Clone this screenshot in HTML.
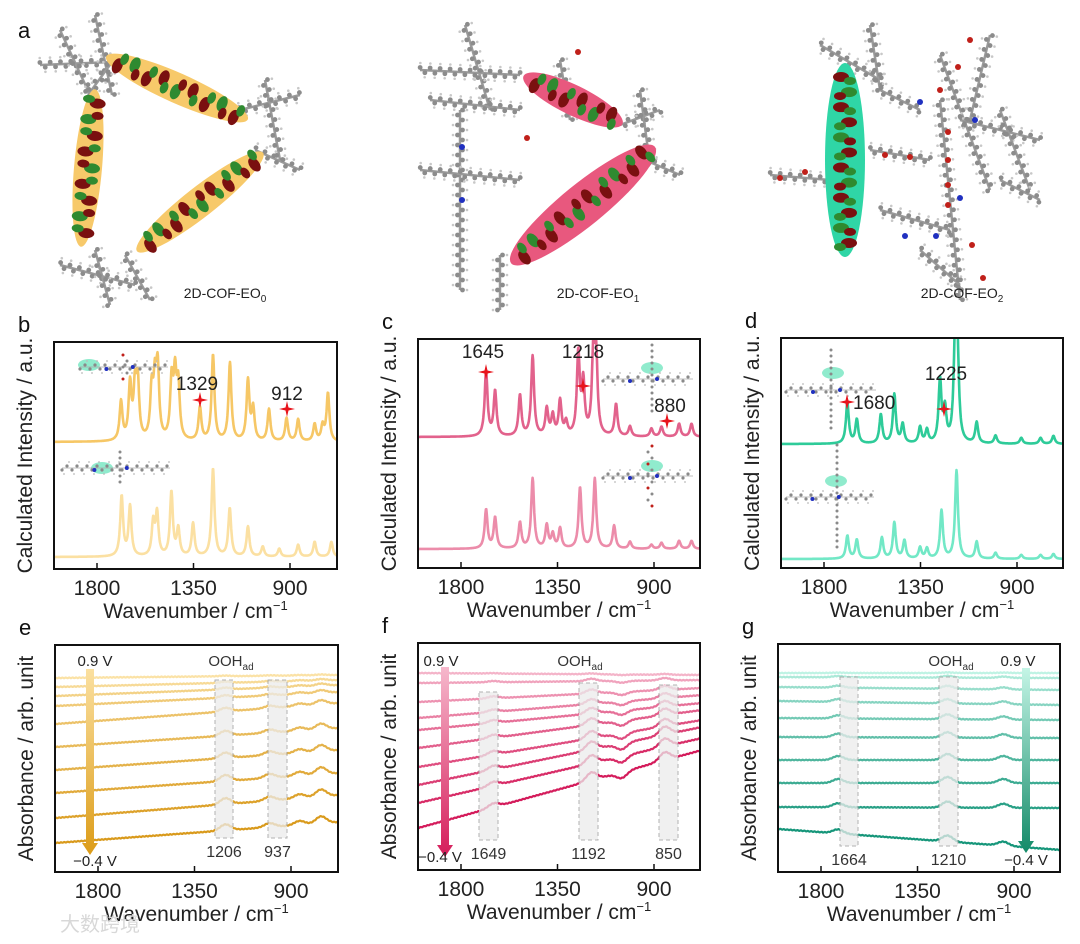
<!DOCTYPE html>
<html><head><meta charset="utf-8"><style>
html,body{margin:0;padding:0;background:#fff;}
svg{display:block;font-family:"Liberation Sans","Noto Sans CJK SC",sans-serif;}
</style></head><body>
<svg id="fig" width="1080" height="944" viewBox="0 0 1080 944" xmlns="http://www.w3.org/2000/svg">
<defs>
<linearGradient id="arrE" x1="0" y1="0" x2="0" y2="1"><stop offset="0" stop-color="#fbe0a0"/><stop offset="1" stop-color="#dc9c18"/></linearGradient>
<linearGradient id="arrF" x1="0" y1="0" x2="0" y2="1"><stop offset="0" stop-color="#f6b8cc"/><stop offset="1" stop-color="#d51d5a"/></linearGradient>
<linearGradient id="arrG" x1="0" y1="0" x2="0" y2="1"><stop offset="0" stop-color="#c4f5e6"/><stop offset="1" stop-color="#138a68"/></linearGradient>
</defs>
<g id="panelA"></g>
<g id="charts"></g>
</svg>
<script>
// ---------- calculated spectra data (wavenumber cm-1, peak height in px units) ----------
const bTopPos = [1688,1646,1623,1610,1545,1530,1517,1452,1436,1421,1320,1259,1180,1096,1072,998,916,862,785,748,723];
const bTopH   = [39,55,49,55,48,52,68,57,60,52,33,86,78,60,32,32,23,22,17,15,48];
const bBotPos = [1685,1646,1538,1520,1453,1421,1352,1259,1181,1096,1027,950,862,785,707];
const bBotH   = [60,50,33,42,64,27,33,88,48,30,10,8,12,15,15];
const cTopPos = [1683,1641,1525,1466,1400,1372,1338,1310,1253,1230,1183,1170,1077,1012,912,865,783,725];
const cTopH   = [65,45,41,80,27,20,35,13,82,52,77,75,32,10,8,10,13,13];
const cBotPos = [1683,1641,1525,1466,1400,1372,1338,1245,1176,1086,1012,912,865,783,725];
const cBotH   = [39,31,26,70,23,14,20,61,70,23,7,4,6,8,8];
const dTopPos = [1691,1647,1535,1472,1433,1352,1320,1259,1236,1189,1178,1088,1000,880,790,730];
const dTopH   = [41,24,29,49,19,16,13,62,32,91,89,21,8,6,6,8];
const dBotPos = [1691,1647,1530,1472,1425,1352,1320,1252,1182,1088,1000,880,790,730];
const dBotH   = [23,19,21,36,18,11,10,48,88,17,6,4,4,5];
const xTicks = [1800,1350,900];
const xTickLabels = ["1800","1350","900"];
// ---------- in-situ IR data (values in px-units above frame bottom) ----------
const eLeft  = [194,185,176,166,148,125,102,79,54,29];
const eRight = [197,192,187,180,169,144,122,99,77,50];
const eBumpPos = [1206,1000,860,760];
const eBumpAmp = [6,4,4,7];
const eBumpScale = [0.1,0.2,0.3,0.4,0.6,0.8,0.9,1,1,1];
const fLeft  = [197,187,168,152,140,122,103,85,67,42];
const fRight = [195,190,182,175,167,160,150,143,132,120];
const fBumpPos = [1649,1192,1050,850];
const fBumpAmp = [4,8,-6,8];
const fBumpScale = [0.1,0.3,0.5,0.6,0.7,0.8,0.9,1,1,1];
const gLeft  = [199,195,185,171,154,135,112,89,65,43];
const gRight = [199,194,182,167,152,134,112,89,64,22];
const gBumpPos = [1720,1210,950];
const gBumpAmp = [4,6,4];
const gBumpScale = [0.1,0.3,0.5,0.7,0.8,0.9,1,1,1,1];

const NS="http://www.w3.org/2000/svg";
function mk(parent,tag,attrs){const e=document.createElementNS(NS,tag);for(const k in attrs)e.setAttribute(k,attrs[k]);parent.appendChild(e);return e;}
function txt(parent,x,y,s,size,anchor,fill){const t=mk(parent,'text',{x:x,y:y,'font-size':size,'text-anchor':anchor||'middle',fill:fill||'#222'});t.textContent=s;return t;}

const charts=document.getElementById('charts');
function X(p,wn){return p.left+43+(1800-wn)*96.5/450;}
function makeFrame(p,letter,ytitle){
  const g=mk(charts,'g',{});
  
  
  const L=txt(g,p.left-36,p.top-10,letter,22,'start','#111');
  
  
  const axg=mk(g,'g',{});
  
  
  xTicks.forEach((w,i)=>{
    const x=X(p,w);
    mk(axg,'line',{x1:x,x2:x,y1:p.bottom,y2:p.bottom-6,stroke:'#111','stroke-width':1.5});
    const t=txt(axg,x,p.bottom+26,xTickLabels[i],21);
    
    
  });
  const xt=mk(g,'text',{x:(p.left+p.right)/2,y:p.bottom+49,'font-size':21,'text-anchor':'middle',fill:'#222'});
  xt.innerHTML='Wavenumber / cm<tspan dy="-8" font-size="13">\u22121</tspan>';
  
  
  const yt=txt(g,0,0,ytitle,21);
  yt.setAttribute('transform','translate('+(p.left-22)+','+((p.top+p.bottom)/2)+') rotate(-90)');
  
  
  const clipId='clip'+letter;
  const cp=mk(mk(g,'defs',{}),'clipPath',{id:clipId});
  mk(cp,'rect',{x:p.left,y:p.top,width:p.right-p.left,height:p.bottom-p.top});
  const plot=mk(g,'g',{'clip-path':'url(#'+clipId+')'});
  
  
  const fr=mk(g,'rect',{x:p.left,y:p.top,width:p.right-p.left,height:p.bottom-p.top,fill:'none',stroke:'#111','stroke-width':2});
  
  
  return {g:g,plot:plot};
}
function spectrum(p,plot,pos,h,base,color,name){
  let d='';
  for(let w=2000;w>=676;w-=2){
    let y=0;
    for(let i=0;i<pos.length;i++){const dx=(w-pos[i])/8;y+=h[i]/(1+dx*dx);}
    d+=(w===2000?'M':'L')+X(p,w).toFixed(1)+','+(base-y).toFixed(1);
  }
  const path=mk(plot,'path',{d:d,fill:'none',stroke:color,'stroke-width':2.6,'stroke-linejoin':'round'});
  
  
}
function star(g,x,y){
  const s=mk(g,'path',{d:`M${x-8},${y}L${x-1.5},${y-1.5}L${x},${y-8}L${x+1.5},${y-1.5}L${x+8},${y}L${x+1.5},${y+1.5}L${x},${y+8}L${x-1.5},${y+1.5}Z`,fill:'#e8141c'});
  
  
}
function miniMol(g,x,y,w,hl,vert){
  const m=mk(g,'g',{});
  
  
  mk(m,'ellipse',{cx:hl[0],cy:hl[1],rx:11,ry:6,fill:'#7de8c4',opacity:0.85});
  for(let i=0;i<w;i+=5){
    mk(m,'circle',{cx:x+i,cy:y+((i/5)%2?-2:2),r:1.6,fill:'#8a8a8a'});
    mk(m,'circle',{cx:x+i+2,cy:y+((i/5)%2?-6:6),r:0.9,fill:'#bbb'});
  }
  mk(m,'line',{x1:x,x2:x+w,y1:y,y2:y,stroke:'#aaa','stroke-width':0.7});
  if(vert){
    for(let j=-vert[1];j<=vert[1];j+=6){
      mk(m,'circle',{cx:vert[0]+((j/6)%2?2:-2),cy:y+j,r:1.5,fill:Math.abs(j)%18===12?'#c0201a':'#8a8a8a'});
    }
  }
  mk(m,'circle',{cx:x+w*0.6,cy:y,r:2,fill:'#2030c0'});
  mk(m,'circle',{cx:x+w*0.3,cy:y+2,r:2,fill:'#2030c0'});
}

// panels b,c,d
const pb={left:54,right:337,top:342,bottom:569};
const pc={left:418,right:700,top:339,bottom:568};
const pd={left:781,right:1063,top:338,bottom:568};
const YT1='Calculated  Intensity / a.u.';
let F=makeFrame(pb,'b',YT1);
spectrum(pb,F.plot,bTopPos,bTopH,442,'#f6c766','spectrum-eo0-top');
spectrum(pb,F.plot,bBotPos,bBotH,557,'#fbe0a2','spectrum-eo0-bottom');
miniMol(F.g,80,367,88,[89,365],[125,12]);
miniMol(F.g,62,468,108,[102,468],[118,16]);
star(F.g,200,400);txt(F.g,197,390,'1329',19);
star(F.g,287,409);txt(F.g,287,400,'912',19);

F=makeFrame(pc,'c',YT1);
spectrum(pc,F.plot,cTopPos,cTopH,437,'#e2628c','spectrum-eo1-top');
spectrum(pc,F.plot,cBotPos,cBotH,549,'#ec8caa','spectrum-eo1-bottom');
miniMol(F.g,603,379,90,[652,368],[650,34]);
miniMol(F.g,603,476,90,[652,466],[650,30]);
star(F.g,486,372);txt(F.g,483,358,'1645',19);
star(F.g,583,386);txt(F.g,583,358,'1218',19);
star(F.g,667,421);txt(F.g,670,412,'880',19);

F=makeFrame(pd,'d',YT1);
spectrum(pd,F.plot,dTopPos,dTopH,444,'#2ecb99','spectrum-eo2-top');
spectrum(pd,F.plot,dBotPos,dBotH,559,'#72e8c6','spectrum-eo2-bottom');
miniMol(F.g,786,390,90,[833,373],[829,40]);
miniMol(F.g,786,497,88,[836,481],[835,52]);
star(F.g,847,402);txt(F.g,853,409,'1680',19,'start');
star(F.g,944,409);txt(F.g,946,380,'1225',19);

// IR panels
const pe={left:55,right:338,top:645,bottom:872};
const pf={left:418,right:700,top:643,bottom:870};
const pg={left:778,right:1060,top:644,bottom:872};
const YT2='Absorbance / arb. unit';
function mixColor(c1,c2,t){const a=[1,3,5].map(i=>parseInt(c1.substr(i,2),16)),b=[1,3,5].map(i=>parseInt(c2.substr(i,2),16));return 'rgb('+a.map((v,i)=>Math.round(v+(b[i]-v)*t)).join(',')+')';}
function band(g,p,x1,x2,y1,y2,label){
  const r=mk(g,'rect',{x:x1,y:y1,width:x2-x1,height:y2-y1,fill:'#ececec',opacity:0.75,stroke:'#999','stroke-dasharray':'4,3','stroke-width':1});
  
  
  txt(g,(x1+x2)/2,y2+19,label,16,'middle','#333');
}
function irTraces(p,plot,left,right,bpos,bamp,bscale,c1,c2,name){
  const n=left.length;
  for(let k=0;k<n;k++){
    let d='';
    for(let w=2000;w>=676;w-=3){
      const t=(2000-w)/1324;
      let v=left[k]+(right[k]-left[k])*t;
      for(let j=0;j<bpos.length;j++){const dx=(w-bpos[j])/35;v+=bamp[j]*bscale[k]*Math.exp(-dx*dx);}
      v+=0.35*Math.sin(w*1.7+k*3.1);
      d+=(w===2000?'M':'L')+X(p,w).toFixed(1)+','+(p.bottom-v).toFixed(1);
    }
    const path=mk(plot,'path',{d:d,fill:'none',stroke:mixColor(c1,c2,k/(n-1)),'stroke-width':2.2,'stroke-linejoin':'round'});
    
    
  }
}
function arrow(g,x,y1,y2,grad){
  const a=mk(g,'path',{d:`M${x-4},${y1}L${x+4},${y1}L${x+4},${y2-12}L${x+8},${y2-12}L${x},${y2}L${x-8},${y2-12}L${x-4},${y2-12}Z`,fill:'url(#'+grad+')'});
  
  
}
function oohLabel(g,x,y){
  const t=mk(g,'text',{x:x,y:y,'font-size':15,'text-anchor':'middle',fill:'#333'});
  t.innerHTML='OOH<tspan dy="4" font-size="10">ad</tspan>';
  
  
}
F=makeFrame(pe,'e',YT2);
band(F.g,pe,215,233,680,838,'1206');band(F.g,pe,268,287,680,838,'937');
irTraces(pe,F.plot,eLeft,eRight,eBumpPos,eBumpAmp,eBumpScale,'#fbe2a6','#d99a1c','eo0');
arrow(F.g,90,669,855,'arrE');
txt(F.g,95,666,'0.9 V',15);txt(F.g,95,866,'\u22120.4 V',15);oohLabel(F.g,231,666);

F=makeFrame(pf,'f',YT2);
band(F.g,pf,479,498,692,840,'1649');band(F.g,pf,579,598,683,840,'1192');band(F.g,pf,659,678,685,840,'850');
irTraces(pf,F.plot,fLeft,fRight,fBumpPos,fBumpAmp,fBumpScale,'#f4b4c9','#d41b5b','eo1');
arrow(F.g,445,667,857,'arrF');
txt(F.g,441,666,'0.9 V',15);txt(F.g,440,862,'\u22120.4 V',15);oohLabel(F.g,580,666);

F=makeFrame(pg,'g',YT2);
band(F.g,pg,840,858,677,846,'1664');band(F.g,pg,939,958,677,846,'1210');
irTraces(pg,F.plot,gLeft,gRight,gBumpPos,gBumpAmp,gBumpScale,'#bff3e4','#16967a','eo2');
arrow(F.g,1026,668,853,'arrG');
txt(F.g,1018,666,'0.9 V',15);txt(F.g,1026,865,'\u22120.4 V',15);oohLabel(F.g,951,666);

// ---------- panel a: structures ----------
const A=document.getElementById('panelA');
const la=txt(A,18,38,'a',22,'start','#111');


function chain(x1,y1,x2,y2){
  const n=Math.max(2,Math.round(Math.hypot(x2-x1,y2-y1)/5));
  mk(A,'line',{x1:x1,y1:y1,x2:x2,y2:y2,stroke:'#9a9a9a','stroke-width':2.5});
  const nx=-(y2-y1),ny=(x2-x1),L=Math.hypot(nx,ny);
  for(let i=0;i<=n;i++){
    const x=x1+(x2-x1)*i/n,y=y1+(y2-y1)*i/n,s=(i%2?1:-1)*5;
    mk(A,'circle',{cx:x+nx/L*s*0.5,cy:y+ny/L*s*0.5,r:2.4,fill:'#8c8c8c'});
    mk(A,'circle',{cx:x+nx/L*s*1.4,cy:y+ny/L*s*1.4,r:1.3,fill:'#c8c8c8'});
  }
}
function orb(cx,cy,len,wid,ang,color,nlobe){
  const g=mk(A,'g',{transform:`translate(${cx},${cy}) rotate(${ang})`});
  
  
  mk(g,'ellipse',{cx:0,cy:0,rx:len/2,ry:wid/2,fill:color});
  for(let i=0;i<nlobe;i++){
    const x=-len/2+14+i*(len-28)/(nlobe-1);
    mk(g,'ellipse',{cx:x,cy:(i%2?-4:4),rx:5,ry:8,fill:i%3===1?'#2f8a30':'#7a1010'});
    mk(g,'ellipse',{cx:x+4,cy:(i%2?5:-5),rx:4,ry:6,fill:i%3===1?'#7a1010':'#2f8a30'});
  }
}
function molLabel(x,sub,name){
  const t=mk(A,'text',{x:x,y:298,'font-size':14,'text-anchor':'middle',fill:'#222'});
  t.innerHTML='2D-COF-EO<tspan dy="4" font-size="10">'+sub+'</tspan>';
  
  
}
// EO0
[[40,65,112,62],[95,15,112,95],[60,30,90,95],[240,110,300,95],[265,80,280,160],[255,150,300,170],[60,265,135,285],[95,250,110,305],[125,255,150,300],[112,62,88,95]].forEach(s=>chain(...s));
orb(177,88,155,30,24,'#f7c96a',9);
orb(88,168,158,28,-85,'#f7c96a',9);
orb(200,202,160,30,-38,'#f7c96a',9);
molLabel(225,'0','label-2d-cof-eo0');
// EO1
[[465,25,490,110],[420,70,520,75],[430,100,520,110],[460,110,460,290],[420,170,520,180],[500,255,500,310],[620,125,660,110],[640,90,650,165],[645,160,680,175],[560,60,570,120]].forEach(s=>chain(...s));
orb(573,100,110,30,26,'#e8587e',6);
orb(583,205,185,42,-39,'#e8587e',10);
mk(A,'circle',{cx:462,cy:147,r:3,fill:'#2030c0'});mk(A,'circle',{cx:462,cy:200,r:3,fill:'#2030c0'});
mk(A,'circle',{cx:578,cy:52,r:3,fill:'#c0201a'});mk(A,'circle',{cx:527,cy:138,r:3,fill:'#c0201a'});
molLabel(598,'1','label-2d-cof-eo1');
// EO2
[[820,45,880,80],[870,25,880,90],[880,90,920,110],[940,55,990,190],[940,100,960,300],[960,120,1040,140],[1000,110,1030,190],[1000,180,1040,200],[770,175,830,180],[870,150,930,160],[880,210,950,230],[920,250,960,285],[990,35,970,120]].forEach(s=>chain(...s));
orb(845,160,194,40,90,'#2fd6a6',12);
[[920,102],[975,120],[960,198],[936,236],[905,236]].forEach(c=>mk(A,'circle',{cx:c[0],cy:c[1],r:3,fill:'#2030c0'}));
[[970,40],[958,67],[940,90],[948,132],[948,160],[948,185],[885,155],[910,157],[780,178],[805,172],[948,205],[972,245],[983,278]].forEach(c=>mk(A,'circle',{cx:c[0],cy:c[1],r:3,fill:'#c0201a'}));
molLabel(962,'2','label-2d-cof-eo2');
// watermark
const wm=txt(document.getElementById('fig'),60,931,'大数跨境',20,'start','#d8d8d8');


</script>
</body></html>
